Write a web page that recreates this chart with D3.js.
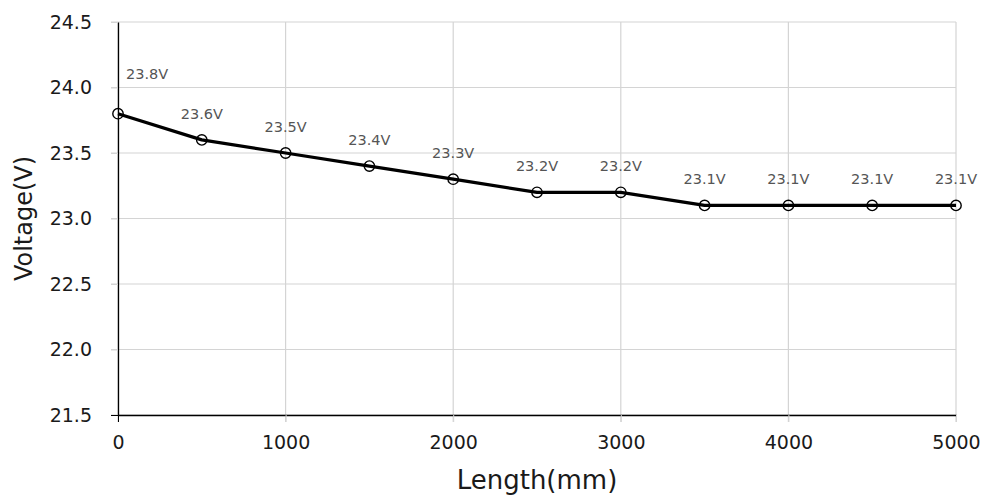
<!DOCTYPE html>
<html>
<head>
<meta charset="utf-8">
<script src="https://cdn.jsdelivr.net/npm/d3@7"></script>
<style>
  body { margin: 0; background: #fff; }
  svg { display: block; font-family: "DejaVu Sans", sans-serif; }
</style>
</head>
<body>
<svg id="chart" width="985" height="495"></svg>
<script>
// data
const lengths = [0, 500, 1000, 1500, 2000, 2500, 3000, 3500, 4000, 4500, 5000];
const voltages = [23.8, 23.6, 23.5, 23.4, 23.3, 23.2, 23.2, 23.1, 23.1, 23.1, 23.1];
const xTicks = [0, 1000, 2000, 3000, 4000, 5000];
const yTicks = [21.5, 22.0, 22.5, 23.0, 23.5, 24.0, 24.5];

const SVG_WIDTH = 985;
const SVG_HEIGHT = 495;
const MARGIN = { top: 22, right: 29, bottom: 80, left: 118 };
const WIDTH = SVG_WIDTH - MARGIN.left - MARGIN.right;
const HEIGHT = SVG_HEIGHT - MARGIN.top - MARGIN.bottom;
const GRID_COLOR = "#d4d4d4";
const TICK_LEN = 7;
const TEXT_COLOR = "#1a1a1a";

const svg = d3.select("#chart");
const g = svg.append("g").attr("transform", `translate(${MARGIN.left},${MARGIN.top})`);

const x = d3.scaleLinear().domain([0, 5000]).range([0, WIDTH]);
const y = d3.scaleLinear().domain([21.5, 24.5]).range([HEIGHT, 0]);

// grid lines, they run past the axes as the ticks
g.append("g")
    .selectAll("line")
    .data(yTicks)
    .join("line")
    .attr("x1", -TICK_LEN)
    .attr("x2", WIDTH)
    .attr("y1", d => y(d))
    .attr("y2", d => y(d))
    .attr("stroke", GRID_COLOR)
    .attr("stroke-width", 1.2);

g.append("g")
    .selectAll("line")
    .data(xTicks)
    .join("line")
    .attr("x1", d => x(d))
    .attr("x2", d => x(d))
    .attr("y1", 0)
    .attr("y2", HEIGHT + TICK_LEN)
    .attr("stroke", GRID_COLOR)
    .attr("stroke-width", 1.2);

// axes
const xAxis = g.append("g")
    .attr("transform", `translate(0,${HEIGHT})`)
    .call(d3.axisBottom(x).tickValues(xTicks).tickSize(TICK_LEN).tickSizeOuter(0).tickPadding(14).tickFormat(d3.format("d")));
xAxis.select(".domain").attr("stroke", "#000").attr("stroke-width", 1.3);
xAxis.selectAll(".tick line").attr("stroke", (d, i) => i === 0 ? "#000" : GRID_COLOR);
xAxis.selectAll(".tick text")
    .attr("font-size", 19)
    .attr("font-family", "DejaVu Sans, sans-serif")
    .attr("fill", TEXT_COLOR);

const yAxis = g.append("g")
    .call(d3.axisLeft(y).tickValues(yTicks).tickSize(TICK_LEN).tickSizeOuter(0).tickPadding(19).tickFormat(d3.format(".1f")));
yAxis.select(".domain").attr("stroke", "#000").attr("stroke-width", 1.3);
yAxis.selectAll(".tick line").attr("stroke", (d, i) => i === 0 ? "#000" : GRID_COLOR);
yAxis.selectAll(".tick text")
    .attr("font-size", 19)
    .attr("font-family", "DejaVu Sans, sans-serif")
    .attr("fill", TEXT_COLOR);

const points = lengths.map((l, i) => ({ l, v: voltages[i] }));

// the line
g.append("path")
    .datum(points)
    .attr("fill", "none")
    .attr("stroke", "#000")
    .attr("stroke-width", 3.2)
    .attr("stroke-linejoin", "round")
    .attr("d", d3.line().x(d => x(d.l)).y(d => y(d.v)));

// hollow markers
g.append("g")
    .selectAll("circle")
    .data(points)
    .join("circle")
    .attr("cx", d => x(d.l))
    .attr("cy", d => y(d.v))
    .attr("r", 5.2)
    .attr("fill", "none")
    .attr("stroke", "#000")
    .attr("stroke-width", 1.4);

// value labels; the first one is pushed off the y axis
g.append("g")
    .selectAll("text")
    .data(points)
    .join("text")
    .attr("x", d => x(d.l))
    .attr("y", d => y(d.v))
    .attr("dx", (d, i) => i === 0 ? 8 : 0)
    .attr("dy", (d, i) => i === 0 ? -35 : -21)
    .attr("text-anchor", (d, i) => i === 0 ? "start" : "middle")
    .attr("font-size", 14.5)
    .attr("fill", "#555")
    .text(d => d.v.toFixed(1) + "V");

// axis titles
svg.append("text")
    .attr("x", MARGIN.left + WIDTH / 2)
    .attr("y", 489)
    .attr("text-anchor", "middle")
    .attr("font-size", 26)
    .attr("fill", TEXT_COLOR)
    .text("Length(mm)");

svg.append("text")
    .attr("transform", `translate(32,${MARGIN.top + HEIGHT / 2}) rotate(-90)`)
    .attr("text-anchor", "middle")
    .attr("font-size", 24)
    .attr("fill", TEXT_COLOR)
    .text("Voltage(V)");
</script>
</body>
</html>
